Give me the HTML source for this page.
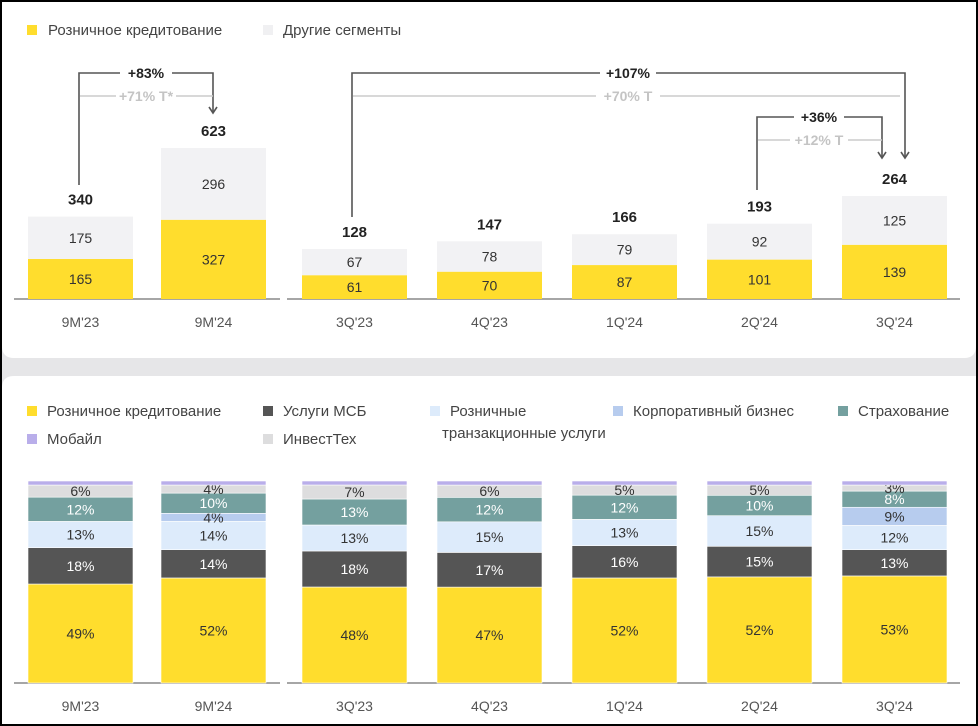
<!DOCTYPE html>
<html><head><meta charset="utf-8"><style>
body{margin:0;background:#000;}
#wrap{position:relative;width:978px;height:726px;overflow:hidden;background:#000;}
svg{position:absolute;left:0;top:0;font-family:"Liberation Sans","Noto Sans CJK SC",sans-serif;}
</style></head><body>
<div id="wrap">
<svg id="s" width="978" height="726">
<rect x="2" y="2" width="974" height="722" fill="#e6e6e8"/>
<path d="M2 2H976V346Q976 358 964 358H14Q2 358 2 346Z" fill="#fff"/>
<path d="M2 388Q2 376 14 376H976V724H2Z" fill="#fff"/>
<g id="top"></g>
<g id="bot"></g>
</svg></div>
<script>
const topCats=["9M'23","9M'24","3Q'23","4Q'23","1Q'24","2Q'24","3Q'24"];
const retailVals=[165,327,61,70,87,101,139];
const otherVals=[175,296,67,78,79,92,125];
const totalVals=[340,623,128,147,166,193,264];
const botCats=["9M'23","9M'24","3Q'23","4Q'23","1Q'24","2Q'24","3Q'24"];
const sRetail=[49,52,48,47,52,52,53];
const sMsb=[18,14,18,17,16,15,13];
const sTrans=[13,14,13,15,13,15,12];
const sCorp=[0,4,0,0,0,0,9];
const sIns=[12,10,13,12,12,10,8];
const sInvest=[6,4,7,6,5,5,3];
const sMobile=[2,2,2,2,2,2,2];

const NS="http://www.w3.org/2000/svg";
function mk(p,tag,a,txt){const e=document.createElementNS(NS,tag);for(const k in a)e.setAttribute(k,a[k]);if(txt!==undefined)e.textContent=txt;p.appendChild(e);return e;}
const barX=[28,161,302,437,572,707,842], BW=105;
const T=document.getElementById('top'), B=document.getElementById('bot');
// top axis
const base=299;
function yTop(i,v){const k=i<2?151/623:103/264;return base-v*k;}
// legend top
let e;
e=mk(T,'rect',{x:27,y:25,width:10,height:10,fill:'#FFDD2D'});
e=mk(T,'text',{x:48,y:35,'font-size':15,fill:'#444'},'Розничное кредитование');
e=mk(T,'rect',{x:263,y:25,width:10,height:10,fill:'#f0f0f2'});
e=mk(T,'text',{x:283,y:35,'font-size':15,fill:'#444'},'Другие сегменты');
e=mk(T,'line',{x1:14,x2:280,y1:base,y2:base,stroke:'#888','stroke-width':1.5});
e=mk(T,'line',{x1:287,x2:960,y1:base,y2:base,stroke:'#888','stroke-width':1.5});
for(let i=0;i<topCats.length;i++){
  const x=barX[i],cx=x+BW/2;
  const yR=yTop(i,retailVals[i]),yT=yTop(i,retailVals[i]+otherVals[i]);
  e=mk(T,'rect',{x:x,y:yR,width:BW,height:base-yR,fill:'#FFDD2D'});
  e=mk(T,'rect',{x:x,y:yT,width:BW,height:yR-yT,fill:'#f2f2f4'});
  e=mk(T,'text',{x:cx,y:(yR+base)/2+5,'font-size':14,fill:'#333','text-anchor':'middle'},retailVals[i]);
  e=mk(T,'text',{x:cx,y:(yT+yR)/2+5,'font-size':14,fill:'#333','text-anchor':'middle'},otherVals[i]);
  e=mk(T,'text',{x:cx,y:yT-12,'font-size':15,'font-weight':'bold',fill:'#222','text-anchor':'middle'},totalVals[i]);
  e=mk(T,'text',{x:cx,y:327,'font-size':14,fill:'#555','text-anchor':'middle'},topCats[i]);
}
// brackets
function bracket(x1,yb,x2,ya,yl,txt,tx,tgap,gy,gtxt,gend){
  e=mk(T,'path',{d:`M${x1} ${yb}V${yl}H${tx-tgap}M${tx+tgap} ${yl}H${x2}V${ya}`,fill:'none',stroke:'#555','stroke-width':1.6});
  e=mk(T,'path',{d:`M${x2-4} ${ya-6}L${x2} ${ya}L${x2+4} ${ya-6}`,fill:'none',stroke:'#555','stroke-width':1.6});
  e=mk(T,'text',{x:tx,y:yl+5,'font-size':14,'font-weight':'bold',fill:'#222','text-anchor':'middle'},txt);
  e=mk(T,'path',{d:`M${x1+1} ${gy}H${tx-tgap-4}M${tx+tgap+4} ${gy}H${gend}`,fill:'none',stroke:'#ccc','stroke-width':1.5});
  e=mk(T,'text',{x:tx,y:gy+5,'font-size':14,'font-weight':'bold',fill:'#c4c4c4','text-anchor':'middle'},gtxt);
}
bracket(79,185,213,113,73,'+83%',146,26,96,'+71% T*',213);
bracket(352,217,905,158,73,'+107%',628,28,96,'+70% T',900);
bracket(757,190,882,158,117,'+36%',819,25,140,'+12% T',882);

// bottom legend
const leg=[['#FFDD2D',27,411,'Розничное кредитование','legend-retail-b'],['#555',263,411,'Услуги МСБ','legend-msb'],['#DDEBFB',430,411,'Розничные','legend-transactional'],['#B7CCEE',613,411,'Корпоративный бизнес','legend-corporate'],['#74A09F',838,411,'Страхование','legend-insurance'],['#B9AEEA',27,439,'Мобайл','legend-mobile'],['#DDDDDE',263,439,'ИнвестТех','legend-investtech']];
leg.forEach(l=>{
  e=mk(B,'rect',{x:l[1],y:l[2]-5,width:10,height:10,fill:l[0]});
  e=mk(B,'text',{x:l[1]+20,y:l[2]+5,'font-size':15,fill:'#444'},l[3]);
});
e=mk(B,'text',{x:442,y:438,'font-size':15,fill:'#444'},'транзакционные услуги');
const bBase=683,bTop=481,H=bBase-bTop;
e=mk(B,'line',{x1:14,x2:280,y1:bBase,y2:bBase,stroke:'#888','stroke-width':1.5});
e=mk(B,'line',{x1:287,x2:960,y1:bBase,y2:bBase,stroke:'#888','stroke-width':1.5});
const series=[[sRetail,'#FFDD2D','#333','seg-retail'],[sMsb,'#555','#fff','seg-msb'],[sTrans,'#DDEBFB','#333','seg-transactional'],[sCorp,'#B7CCEE','#333','seg-corporate'],[sIns,'#74A09F','#fff','seg-insurance'],[sInvest,'#DDDDDE','#333','seg-investtech'],[sMobile,'#B9AEEA','#333','seg-mobile']];
for(let i=0;i<botCats.length;i++){
  const x=barX[i],cx=x+BW/2;
  let sum=0;series.forEach(s=>sum+=s[0][i]);
  let y=bBase;
  series.forEach((s,k)=>{
    const v=s[0][i];if(!v)return;
    const h=v/sum*H;
    e=mk(B,'rect',{x:x,y:y-h,width:BW,height:h,fill:s[1],stroke:'#fff','stroke-width':0.6});
    if(k<6){e=mk(B,'text',{x:cx,y:y-h/2+5,'font-size':14,fill:s[2],'text-anchor':'middle'},v+'%');}
    y-=h;
  });
  e=mk(B,'text',{x:cx,y:711,'font-size':14,fill:'#555','text-anchor':'middle'},botCats[i]);
}
</script></body></html>
